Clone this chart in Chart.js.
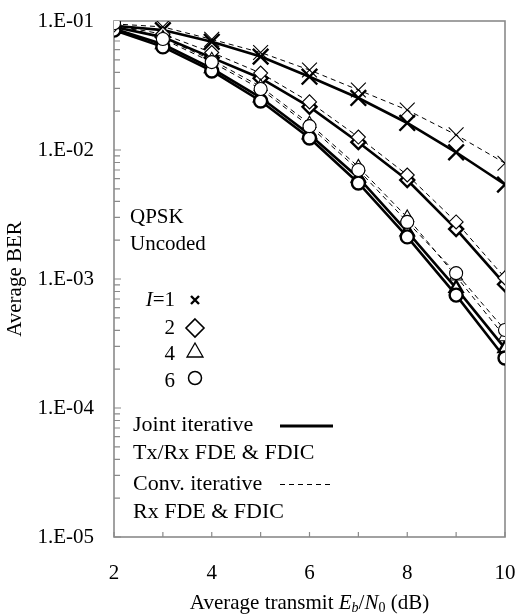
<!DOCTYPE html>
<html>
<head>
<meta charset="utf-8">
<script src="https://cdn.jsdelivr.net/npm/chart.js@4.4.1/dist/chart.umd.min.js"></script>
<style>
  html, body { margin: 0; padding: 0; background: #fff; }
  #wrap { width: 520px; height: 616px; }
</style>
</head>
<body>
<div id="wrap"><canvas id="ber" width="520" height="616"></canvas></div>
<script>
// ---------------- data ----------------
const snrDb = [2, 3, 4, 5, 6, 7, 8, 9, 10];

// joint iterative Tx/Rx FDE & FDIC (solid)
const jointI1 = [0.092, 0.085, 0.069, 0.053, 0.037, 0.0253, 0.0162, 0.0096, 0.0054];
const jointI2 = [0.090, 0.075, 0.052, 0.036, 0.0216, 0.0115, 0.00585, 0.00244, 0.00091];
const jointI4 = [0.087, 0.066, 0.043, 0.0255, 0.0132, 0.0061, 0.00233, 0.00085, 0.00029];
const jointI6 = [0.085, 0.063, 0.041, 0.024, 0.0124, 0.00555, 0.00212, 0.00075, 0.000244];

// conventional iterative Rx FDE & FDIC (dashed)
const convI1 = [0.095, 0.090, 0.072, 0.057, 0.0417, 0.0292, 0.0204, 0.0131, 0.0079];
const convI2 = [0.093, 0.079, 0.057, 0.0395, 0.0236, 0.0126, 0.0064, 0.00277, 0.00102];
const convI4 = [0.095, 0.074, 0.050, 0.031, 0.0160, 0.0074, 0.0030, 0.00105, 0.000355];
const convI6 = [0.096, 0.0725, 0.048, 0.0297, 0.0153, 0.0070, 0.00277, 0.00111, 0.000402];

const yTickDecades = [1e-5, 1e-4, 1e-3, 1e-2, 1e-1];

const FONT = "Liberation Serif";
const AXIS_GRAY = "#8a8a8a";

const toXY = arr => arr.map((v, i) => ({ x: snrDb[i], y: v }));

function joint(arr, style, r) {
    return {
        data: toXY(arr),
        borderColor: "#000",
        borderWidth: 2.6,
        pointStyle: style,
        pointRadius: r,
        pointBorderWidth: 2.4,
        pointBorderColor: "#000",
        pointBackgroundColor: "#fff",
        tension: 0
    };
}
function conv(arr, style, r) {
    return {
        data: toXY(arr),
        borderColor: "#000",
        borderWidth: 1,
        borderDash: [5, 4],
        pointStyle: style,
        pointRadius: r,
        pointBorderWidth: 1.1,
        pointBorderColor: "#000",
        pointBackgroundColor: "#fff",
        tension: 0
    };
}

// ------------------------------------------------------
// axis box + inward ticks (drawn under the marks)
// ------------------------------------------------------
const axisBox = {
    id: "axisBox",
    beforeDatasetsDraw(chart) {
        const { ctx, chartArea: a, scales } = chart;
        ctx.save();
        ctx.strokeStyle = AXIS_GRAY;
        ctx.lineWidth = 1.6;
        ctx.strokeRect(a.left, a.top, a.right - a.left, a.bottom - a.top);

        ctx.lineWidth = 1.2;
        ctx.beginPath();
        // y minor/major ticks
        for (let e = -5; e <= -2; e++) {
            for (let k = 1; k <= 9; k++) {
                const py = scales.y.getPixelForValue(k * Math.pow(10, e));
                const len = k === 1 ? 7 : 6;
                ctx.moveTo(a.left, py);
                ctx.lineTo(a.left + len, py);
            }
        }
        // x ticks every 1 dB
        snrDb.forEach(v => {
            const px = scales.x.getPixelForValue(v);
            ctx.moveTo(px, a.bottom);
            ctx.lineTo(px, a.bottom - 5);
        });
        ctx.stroke();
        ctx.restore();
    }
};

// ------------------------------------------------------
// titles + in-plot legend
// ------------------------------------------------------
function drawRuns(ctx, runs, x, y) {
    let cx = x;
    runs.forEach(r => {
        ctx.font = r.font;
        ctx.fillText(r.t, cx, y + (r.dy || 0));
        cx += ctx.measureText(r.t).width;
    });
}
function runsWidth(ctx, runs) {
    let w = 0;
    runs.forEach(r => { ctx.font = r.font; w += ctx.measureText(r.t).width; });
    return w;
}

const annotations = {
    id: "annotations",
    afterDraw(chart) {
        const { ctx, chartArea: a } = chart;
        ctx.save();
        ctx.fillStyle = "#000";
        ctx.strokeStyle = "#000";
        ctx.textBaseline = "middle";
        ctx.textAlign = "left";

        const reg = `21px "${FONT}"`;
        const ita = `italic 21px "${FONT}"`;
        const sub = `14px "${FONT}"`;
        const subI = `italic 14px "${FONT}"`;

        // x title
        const xt = [
            { t: "Average transmit ", font: reg },
            { t: "E", font: ita },
            { t: "b", font: subI, dy: 5 },
            { t: "/", font: reg },
            { t: "N", font: ita },
            { t: "0", font: sub, dy: 5 },
            { t: " (dB)", font: reg }
        ];
        const cxTitle = (a.left + a.right) / 2;
        drawRuns(ctx, xt, cxTitle - runsWidth(ctx, xt) / 2, 603);

        // y title
        ctx.save();
        ctx.translate(15, (a.top + a.bottom) / 2);
        ctx.rotate(-Math.PI / 2);
        ctx.font = reg;
        ctx.textAlign = "center";
        ctx.fillText("Average BER", 0, 0);
        ctx.restore();

        // legend block
        ctx.font = reg;
        ctx.fillText("QPSK", 130, 217);
        ctx.fillText("Uncoded", 130, 244);

        const textR = 175;
        const mx = 195;
        const iRuns = [{ t: "I", font: ita }, { t: "=1", font: reg }];
        drawRuns(ctx, iRuns, textR - runsWidth(ctx, iRuns), 300);
        ctx.font = reg;
        ctx.textAlign = "right";
        ctx.fillText("2", textR, 328);
        ctx.fillText("4", textR, 354);
        ctx.fillText("6", textR, 381);
        ctx.textAlign = "left";

        // legend marks
        ctx.lineWidth = 2.4;
        ctx.beginPath();
        ctx.moveTo(mx - 4, 300 - 4); ctx.lineTo(mx + 4, 300 + 4);
        ctx.moveTo(mx + 4, 300 - 4); ctx.lineTo(mx - 4, 300 + 4);
        ctx.stroke();

        ctx.lineWidth = 1.6;
        ctx.beginPath();
        ctx.moveTo(mx, 328 - 9); ctx.lineTo(mx + 9, 328);
        ctx.lineTo(mx, 328 + 9); ctx.lineTo(mx - 9, 328);
        ctx.closePath();
        ctx.stroke();

        ctx.lineWidth = 1.3;
        ctx.beginPath();
        ctx.moveTo(mx, 343); ctx.lineTo(mx + 8, 357); ctx.lineTo(mx - 8, 357);
        ctx.closePath();
        ctx.stroke();

        ctx.lineWidth = 1.5;
        ctx.beginPath();
        ctx.arc(mx, 378, 6.5, 0, Math.PI * 2);
        ctx.stroke();

        const leg = `22px "${FONT}"`;
        ctx.font = leg;
        ctx.fillText("Joint iterative", 133, 425);
        ctx.fillText("Tx/Rx FDE & FDIC", 133, 453);
        ctx.fillText("Conv. iterative", 133, 484);
        ctx.fillText("Rx FDE & FDIC", 133, 512);

        ctx.lineWidth = 3;
        ctx.beginPath();
        ctx.moveTo(280, 426); ctx.lineTo(333, 426);
        ctx.stroke();

        ctx.lineWidth = 1;
        ctx.setLineDash([5, 4]);
        ctx.beginPath();
        ctx.moveTo(280, 484.5); ctx.lineTo(333, 484.5);
        ctx.stroke();
        ctx.restore();
    }
};

new Chart(document.getElementById("ber").getContext("2d"), {
    type: "line",
    data: {
        datasets: [
            conv(convI6, "circle", 6.5),
            conv(convI4, "triangle", 7.5),
            conv(convI2, "rectRot", 7),
            conv(convI1, "crossRot", 10.5),
            joint(jointI6, "circle", 6.5),
            joint(jointI4, "triangle", 7.5),
            joint(jointI2, "rectRot", 7),
            joint(jointI1, "crossRot", 11)
        ]
    },
    options: {
        responsive: false,
        animation: false,
        events: [],
        layout: { padding: { top: 21, right: 15, bottom: 0, left: 0 } },
        plugins: {
            legend: { display: false },
            tooltip: { enabled: false }
        },
        scales: {
            x: {
                type: "linear",
                min: 2,
                max: 10,
                grid: { display: false, drawTicks: false },
                border: { display: false },
                afterFit: s => {
                    s.height = 79;
                    s.paddingLeft = 0;
                    s.paddingRight = 0;
                },
                ticks: {
                    stepSize: 1,
                    autoSkip: false,
                    maxRotation: 0,
                    padding: 24,
                    color: "#000",
                    font: { family: FONT, size: 21 },
                    callback: v => (v % 2 === 0 ? String(v) : "")
                }
            },
            y: {
                type: "logarithmic",
                min: yTickDecades[0],
                max: yTickDecades[yTickDecades.length - 1],
                grid: { display: false, drawTicks: false },
                border: { display: false },
                afterFit: s => {
                    s.width = 114;
                    s.paddingTop = 0;
                    s.paddingBottom = 0;
                },
                afterBuildTicks: s => { s.ticks = yTickDecades.map(v => ({ value: v })); },
                ticks: {
                    autoSkip: false,
                    padding: 20,
                    color: "#000",
                    font: { family: FONT, size: 21 },
                    callback: v => {
                        const e = Math.round(Math.log10(v));
                        return "1.E-" + String(-e).padStart(2, "0");
                    }
                }
            }
        }
    },
    plugins: [axisBox, annotations]
});
</script>
</body>
</html>
